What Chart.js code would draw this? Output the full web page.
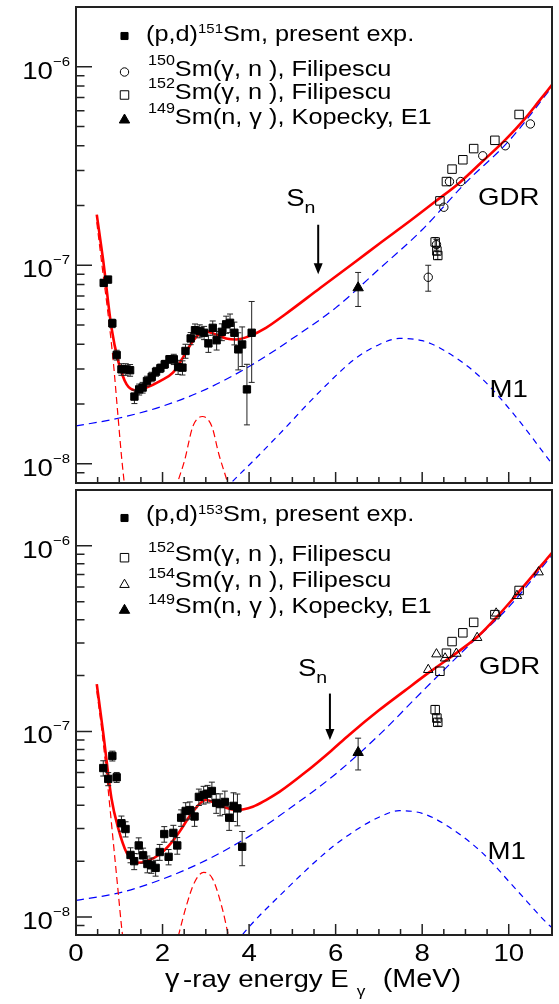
<!DOCTYPE html>
<html>
<head>
<meta charset="utf-8">
<script src="https://cdn.jsdelivr.net/npm/chart.js@4/dist/chart.umd.min.js"></script>
<style>
  body { margin: 0; background: #fff; }
  #wrap { position: relative; width: 559px; height: 1004px; }
  canvas { position: absolute; left: 0; }
</style>
</head>
<body>
<div id="wrap">
  <canvas id="sm151" width="559" height="490" style="top:0"></canvas>
  <canvas id="sm153" width="559" height="521" style="top:483px"></canvas>
</div>
<script>
// ---- axis ticks ----
const xTickLabels = [0, 2, 4, 6, 8, 10];
const yDecades = [-6, -7, -8];

// ---- (p,d)151Sm, present experiment ----
const energy151 = [0.64, 0.74, 0.84, 0.94, 1.05, 1.15, 1.25, 1.35, 1.46, 1.54, 1.64, 1.75, 1.85, 1.95, 2.05, 2.16, 2.26, 2.36, 2.46, 2.53,
                   2.65, 2.75, 2.86, 2.96, 3.06, 3.16, 3.25, 3.37, 3.47, 3.56, 3.66, 3.75, 3.84, 3.95, 4.06];
const gsf151 = [8.15e-8, 8.47e-8, 5.10e-8, 3.53e-8, 2.99e-8, 2.99e-8, 2.96e-8, 2.18e-8, 2.37e-8, 2.42e-8, 2.61e-8, 2.74e-8, 2.91e-8, 3.03e-8,
                3.17e-8, 3.36e-8, 3.36e-8, 3.07e-8, 3.05e-8, 3.70e-8, 4.28e-8, 4.71e-8, 4.66e-8, 4.57e-8, 4.04e-8, 4.84e-8, 4.19e-8, 4.62e-8,
                5.04e-8, 5.13e-8, 4.57e-8, 3.77e-8, 3.99e-8, 2.37e-8, 4.57e-8];
const err151 = [3e-9, 3e-9, 2.5e-9, 2e-9, 2e-9, 2e-9, 2e-9, 1.7e-9, 1.5e-9, 1.5e-9, 1.5e-9, 1.5e-9, 1.5e-9, 1.5e-9, 1.5e-9, 1.5e-9, 2e-9,
                2.5e-9, 2.5e-9, 3e-9, 3e-9, 3.5e-9, 3.5e-9, 3.5e-9, 4e-9, 4e-9, 4.5e-9, 4.5e-9, 5e-9, 5.5e-9, 6e-9, 8e-9, 9e-9, 8e-9, 2e-8];

// ---- (p,d)153Sm, present experiment ----
const energy153 = [0.63, 0.745, 0.84, 0.94, 1.05, 1.145, 1.26, 1.345, 1.45, 1.55, 1.65, 1.74, 1.84, 1.935, 2.04, 2.14, 2.25, 2.34, 2.43,
                   2.535, 2.63, 2.74, 2.84, 2.95, 3.04, 3.14, 3.24, 3.33, 3.44, 3.54, 3.64, 3.73, 3.84];
const gsf153 = [6.35e-8, 5.55e-8, 7.38e-8, 5.66e-8, 3.20e-8, 2.98e-8, 2.16e-8, 2.00e-8, 2.43e-8, 2.15e-8, 1.93e-8, 1.90e-8, 1.84e-8, 2.24e-8,
                2.80e-8, 2.11e-8, 2.84e-8, 2.43e-8, 3.43e-8, 3.73e-8, 3.77e-8, 3.48e-8, 4.44e-8, 4.56e-8, 4.62e-8, 4.78e-8, 4.12e-8, 4.06e-8,
                4.17e-8, 3.43e-8, 3.97e-8, 3.85e-8, 2.39e-8];
const err153 = [6e-9, 4.5e-9, 4.5e-9, 3.5e-9, 3e-9, 2.8e-9, 2e-9, 2e-9, 2.4e-9, 2e-9, 2e-9, 1.8e-9, 1.8e-9, 2.2e-9, 2.7e-9, 2e-9, 2.8e-9,
                2.5e-9, 3.5e-9, 4e-9, 4e-9, 4e-9, 4.5e-9, 5e-9, 5e-9, 5.5e-9, 5e-9, 5.5e-9, 6e-9, 5e-9, 7e-9, 7.5e-9, 5e-9];

// ---- photoneutron data (Filipescu) ----
const energy150gn = [8.14, 8.33, 8.50, 8.63, 8.89, 9.40, 9.92, 10.50];
const gsf150gn = [8.7e-8, 1.27e-7, 1.96e-7, 2.64e-7, 2.64e-7, 3.56e-7, 4.0e-7, 5.15e-7];
const err150gn = [1.3e-8, 8e-9, 0, 0, 0, 0, 0, 0];

const energy152gn = [8.30, 8.34, 8.36, 8.41, 8.56, 8.69, 8.94, 9.19, 9.68, 10.24];
const gsf152gn = [1.31e-7, 1.18e-7, 1.12e-7, 2.11e-7, 2.64e-7, 3.05e-7, 3.40e-7, 3.87e-7, 4.26e-7, 5.75e-7];
const err152gn = [7e-9, 5e-9, 5e-9, 0, 0, 0, 0, 0, 0, 0];

const energy154gn = [8.14, 8.33, 8.53, 8.79, 9.27, 9.71, 10.19, 10.69];
const gsf154gn = [2.15e-7, 2.61e-7, 2.48e-7, 2.63e-7, 3.20e-7, 4.33e-7, 5.39e-7, 7.22e-7];

// ---- 149Sm(n,γ), Kopecky, E1 ----
const kopeckyE = [6.52];
const kopeckyGsf = [7.7e-8];
const kopeckyErr = [1.5e-8];

// ---- model curves, 151Sm ----
const totalE151 = [0.48, 0.63, 0.82, 0.975, 1.17, 1.40, 1.63, 1.94, 2.24, 2.47, 2.70, 2.97, 3.24, 3.47, 3.70, 4.01, 4.39, 4.83, 5.65, 6.48,
                   7.0, 7.7, 8.31, 8.85, 9.39, 9.92, 10.38, 10.69, 11.0];
const total151 = [1.8e-7, 1.05e-7, 4.84e-8, 3.3e-8, 2.51e-8, 2.34e-8, 2.42e-8, 2.61e-8, 2.88e-8, 3.42e-8, 4.15e-8, 4.66e-8, 4.48e-8, 4.28e-8,
                  4.23e-8, 4.4e-8, 4.84e-8, 5.65e-8, 7.7e-8, 1.05e-7, 1.28e-7, 1.66e-7, 2.1e-7, 2.59e-7, 3.33e-7, 4.28e-7, 5.5e-7, 6.67e-7, 8.1e-7];
const upbendE151 = [0.48, 0.6, 0.72, 0.86, 0.96, 1.05, 1.12, 1.2];
const upbend151 = [1.65e-7, 1.0e-7, 6.2e-8, 3.3e-8, 1.85e-8, 1.1e-8, 7.8e-9, 5.2e-9];
const scissorsE151 = [2.3, 2.36, 2.51, 2.69, 2.8, 2.92, 3.04, 3.15, 3.3, 3.49, 3.56];
const scissors151 = [7.4e-9, 8.2e-9, 1.04e-8, 1.52e-8, 1.68e-8, 1.73e-8, 1.68e-8, 1.52e-8, 1.12e-8, 8.2e-9, 7.2e-9];
const e1E = [0, 1, 2, 3, 4, 5, 6, 7, 8, 9, 10, 11];
const e1_151 = [1.55e-8, 1.70e-8, 1.95e-8, 2.37e-8, 3.09e-8, 4.27e-8, 6.1e-8, 9.55e-8, 1.51e-7, 2.6e-7, 4.22e-7, 7.9e-7];
const m1E151 = [3.45, 3.56, 4.09, 4.70, 5.65, 6.48, 7.0, 7.47, 8.0, 8.53, 9.36, 10.18, 10.97, 11.1];
const m1_151 = [7.4e-9, 7.9e-9, 1.03e-8, 1.41e-8, 2.33e-8, 3.42e-8, 3.98e-8, 4.28e-8, 4.17e-8, 3.7e-8, 2.71e-8, 1.71e-8, 1.02e-8, 9.4e-9];

// ---- model curves, 153Sm ----
const totalE153 = [0.48, 0.63, 0.82, 0.975, 1.17, 1.40, 1.63, 1.94, 2.17, 2.40, 2.70, 3.0, 3.24, 3.47, 3.70, 4.085, 4.39, 4.70, 5.3, 5.9,
                   6.31, 7.0, 7.6, 8.16, 8.85, 9.31, 9.77, 10.23, 11.0];
const total153 = [1.8e-7, 9.8e-8, 4.35e-8, 3.01e-8, 2.22e-8, 1.96e-8, 2.0e-8, 2.18e-8, 2.46e-8, 2.9e-8, 3.7e-8, 4.27e-8, 4.09e-8, 3.88e-8,
                  3.77e-8, 3.93e-8, 4.27e-8, 4.72e-8, 6.02e-8, 7.88e-8, 9.58e-8, 1.30e-7, 1.66e-7, 2.08e-7, 2.71e-7, 3.29e-7, 4.25e-7, 5.63e-7, 9.18e-7];
const upbendE153 = [0.48, 0.6, 0.72, 0.86, 0.96, 1.05, 1.12, 1.2];
const upbend153 = [1.65e-7, 1.0e-7, 5.5e-8, 2.56e-8, 1.48e-8, 9.0e-9, 6.5e-9, 4.5e-9];
const scissorsE153 = [2.3, 2.40, 2.55, 2.74, 2.95, 3.16, 3.39, 3.51, 3.6];
const scissors153 = [6.9e-9, 8.5e-9, 1.15e-8, 1.54e-8, 1.74e-8, 1.6e-8, 1.09e-8, 8.2e-9, 6.8e-9];
const e1_153 = [1.23e-8, 1.35e-8, 1.6e-8, 2.02e-8, 2.72e-8, 3.94e-8, 5.9e-8, 9.55e-8, 1.64e-7, 2.79e-7, 4.68e-7, 8.9e-7];
const m1E153 = [3.7, 3.84, 4.83, 5.9, 6.48, 7.0, 7.47, 8.0, 8.53, 9.36, 10.18, 10.92, 11.1];
const m1_153 = [7.2e-9, 8.0e-9, 1.39e-8, 2.36e-8, 2.95e-8, 3.45e-8, 3.74e-8, 3.62e-8, 3.15e-8, 2.25e-8, 1.4e-8, 9.1e-9, 8.4e-9];

// neutron separation energies (MeV)
const sn151 = 5.597;
const sn153 = 5.868;

// ---------------------------------------------------------------
const FONT = '"Liberation Sans", Arial, Helvetica, sans-serif';
const SX = 1.15;   // glyphs are drawn a little wide
const RED = '#ff0000';
const BLUE = '#0000ff';

const pts = (xs, ys) => xs.map((x, i) => ({ x, y: ys[i] }));

function measure(ctx, str, size) {
  ctx.font = size + 'px ' + FONT;
  return ctx.measureText(str).width * SX;
}

function text(ctx, str, x, y, size, align) {
  const w = measure(ctx, str, size);
  let x0 = x;
  if (align === 'center') x0 = x - w / 2;
  else if (align === 'right') x0 = x - w;
  ctx.save();
  ctx.font = size + 'px ' + FONT;
  ctx.fillStyle = '#000';
  ctx.textAlign = 'left';
  ctx.textBaseline = 'alphabetic';
  ctx.translate(x0, y);
  ctx.scale(SX, 1);
  ctx.fillText(str, 0, 0);
  ctx.restore();
  return x0 + w;
}

// runs of [string, size, raise]
function richText(ctx, runs, x, y) {
  let cx = x;
  runs.forEach(([s, size, dy]) => { cx = text(ctx, s, cx, y - (dy || 0), size, 'left'); });
  return cx;
}

function drawMarker(ctx, style, x, y, r, filled) {
  ctx.save();
  ctx.beginPath();
  if (style === 'rect') {
    const s = r * Math.SQRT1_2;
    ctx.rect(x - s, y - s, 2 * s, 2 * s);
  } else if (style === 'circle') {
    ctx.arc(x, y, r, 0, Math.PI * 2);
  } else if (style === 'triangle') {
    ctx.moveTo(x, y - r);
    ctx.lineTo(x + r * Math.sin(2 * Math.PI / 3), y + r / 2);
    ctx.lineTo(x - r * Math.sin(2 * Math.PI / 3), y + r / 2);
    ctx.closePath();
  }
  ctx.lineWidth = 1;
  ctx.strokeStyle = '#000';
  if (filled) { ctx.fillStyle = '#000'; ctx.fill(); }
  ctx.stroke();
  ctx.restore();
}

// vertical error bars with small caps, drawn under each marker set
const errorBars = {
  id: 'errorBars',
  beforeDatasetDraw(chart, args) {
    const ds = chart.data.datasets[args.index];
    if (!ds.errors) return;
    const { ctx, chartArea: a, scales: { y } } = chart;
    ctx.save();
    ctx.beginPath();
    ctx.rect(a.left, a.top, a.right - a.left, a.bottom - a.top);
    ctx.clip();
    ctx.strokeStyle = '#222';
    ctx.lineWidth = 1;
    ctx.beginPath();
    args.meta.data.forEach((pt, i) => {
      const e = ds.errors[i];
      if (!e) return;
      const v = ds.data[i].y;
      const hi = y.getPixelForValue(v + e);
      const lo = y.getPixelForValue(Math.max(v - e, 1e-12));
      ctx.moveTo(pt.x, hi); ctx.lineTo(pt.x, lo);
      ctx.moveTo(pt.x - 3, hi); ctx.lineTo(pt.x + 3, hi);
      ctx.moveTo(pt.x - 3, lo); ctx.lineTo(pt.x + 3, lo);
    });
    ctx.stroke();
    ctx.restore();
  }
};

// frame, inward ticks, labels, legend and annotations
const panelDecor = {
  id: 'panel',
  afterDraw(chart, args, opts) {
    const { ctx, chartArea: a, scales: { x, y } } = chart;
    ctx.save();
    ctx.strokeStyle = '#222';
    ctx.lineWidth = 1.5;
    ctx.beginPath();
    for (let e = 0.5; e < 11; e += 0.5) {
      const px = x.getPixelForValue(e);
      const len = e % 2 === 0 ? 11 : 6;
      ctx.moveTo(px, a.bottom); ctx.lineTo(px, a.bottom - len);
    }
    for (let d = -9; d <= -6; d++) {
      for (let m = 1; m <= 9; m++) {
        const v = m * Math.pow(10, d);
        if (v < y.min * 0.999 || v > y.max * 1.001) continue;
        const py = y.getPixelForValue(v);
        ctx.moveTo(a.left, py); ctx.lineTo(a.left + (m === 1 ? 16 : 8.5), py);
      }
    }
    ctx.stroke();
    ctx.lineWidth = 2;
    ctx.strokeRect(a.left, a.top, a.right - a.left, a.bottom - a.top);
    ctx.restore();

    // y labels 10^n
    yDecades.forEach(d => {
      const py = y.getPixelForValue(Math.pow(10, d));
      const sup = '\u2212' + (-d);
      const supX = a.left - 6 - measure(ctx, sup, 13);
      text(ctx, sup, supX, py - 1, 13, 'left');
      text(ctx, '10', supX, py + 12, 24, 'right');
    });

    if (opts.xLabels) {
      xTickLabels.forEach(v => text(ctx, String(v), x.getPixelForValue(v), a.bottom + 26, 24, 'center'));
      const tb = a.bottom + 52;
      text(ctx, '\u03b3', 165, tb, 25, 'left');
      const ex = text(ctx, '-ray energy E', 183, tb, 24, 'left');
      text(ctx, '\u03b3', ex + 8, tb + 9, 15, 'left');
      text(ctx, '(MeV)', 461, tb, 25, 'right');
    }

    // legend
    opts.legend.forEach(row => {
      drawMarker(ctx, row.style, 124.5, a.top + row.my, row.r, row.filled);
      richText(ctx, row.runs, row.x, a.top + row.base);
    });

    // separation energy arrow
    const ax = x.getPixelForValue(opts.sn);
    const y0 = y.getPixelForValue(1.6e-7), y1 = y.getPixelForValue(9e-8);
    ctx.save();
    ctx.strokeStyle = '#000';
    ctx.fillStyle = '#000';
    ctx.lineWidth = 2;
    ctx.beginPath(); ctx.moveTo(ax, y0); ctx.lineTo(ax, y1 - 8); ctx.stroke();
    ctx.beginPath(); ctx.moveTo(ax - 4.5, y1 - 11); ctx.lineTo(ax + 4.5, y1 - 11); ctx.lineTo(ax, y1); ctx.closePath(); ctx.fill();
    ctx.restore();
    const sb = y.getPixelForValue(2.0e-7);
    const sx = text(ctx, 'S', ax - 32, sb, 24, 'left');
    text(ctx, 'n', sx, sb + 7, 17, 'left');

    opts.labels.forEach(l => text(ctx, l.text, x.getPixelForValue(l.e), y.getPixelForValue(l.v), 24, 'center'));
  }
};

const curve = (xs, ys, color, width, dash) => ({
  type: 'line', data: pts(xs, ys), borderColor: color, borderWidth: width, borderDash: dash || [],
  pointRadius: 0, cubicInterpolationMode: 'monotone', fill: false, order: 2
});
const markers = (xs, ys, errs, style, r, filled) => ({
  data: pts(xs, ys), errors: errs, showLine: false, pointStyle: style, pointRadius: r,
  pointBackgroundColor: filled ? '#000' : 'rgba(0,0,0,0)', pointBorderColor: '#000', pointBorderWidth: 1, order: 1
});

function makePanel(id, datasets, panel, padding) {
  return new Chart(document.getElementById(id), {
    type: 'scatter',
    data: { datasets },
    options: {
      responsive: false,
      animation: false,
      devicePixelRatio: 1,
      layout: { padding },
      plugins: { legend: { display: false }, tooltip: { enabled: false }, panel },
      scales: {
        x: { type: 'linear', min: 0, max: 11, display: false },
        y: { type: 'logarithmic', min: 8e-9, max: 2e-6, display: false }
      }
    },
    plugins: [errorBars, panelDecor]
  });
}

makePanel('sm151', [
  markers(energy151, gsf151, err151, 'rect', 5.2, true),
  markers(energy150gn, gsf150gn, err150gn, 'circle', 4.2, false),
  markers(energy152gn, gsf152gn, err152gn, 'rect', 6, false),
  markers(kopeckyE, kopeckyGsf, kopeckyErr, 'triangle', 6, true),
  curve(totalE151, total151, RED, 2.6),
  curve(upbendE151, upbend151, RED, 1.2, [7, 4]),
  curve(scissorsE151, scissors151, RED, 1.2, [7, 4]),
  curve(e1E, e1_151, BLUE, 1.2, [8, 5]),
  curve(m1E151, m1_151, BLUE, 1.2, [6, 5])
], {
  sn: sn151,
  xLabels: false,
  legend: [
    { style: 'rect', r: 5, filled: true, my: 29, base: 34.3, x: 146, runs: [['(p,d)', 22], ['151', 13, 8], ['Sm, present exp.', 22]] },
    { style: 'circle', r: 4.2, filled: false, my: 65, base: 69, x: 148, runs: [['150', 14, 11], ['Sm(\u03b3, n ), Filipescu', 22]] },
    { style: 'rect', r: 6, filled: false, my: 88, base: 92.3, x: 148, runs: [['152', 14, 11], ['Sm(\u03b3, n ), Filipescu', 22]] },
    { style: 'triangle', r: 6, filled: true, my: 113, base: 116.7, x: 148, runs: [['149', 14, 11], ['Sm(n, \u03b3 ), Kopecky, E1', 22]] }
  ],
  labels: [{ text: 'GDR', e: 10.0, v: 2.02e-7 }, { text: 'M1', e: 10.0, v: 2.18e-8 }]
}, { left: 76, right: 6, top: 5, bottom: 7 });

makePanel('sm153', [
  markers(energy153, gsf153, err153, 'rect', 5.2, true),
  markers(energy152gn, gsf152gn, err152gn, 'rect', 6, false),
  markers(energy154gn, gsf154gn, null, 'triangle', 5.5, false),
  markers(kopeckyE, kopeckyGsf, kopeckyErr, 'triangle', 6, true),
  curve(totalE153, total153, RED, 2.6),
  curve(upbendE153, upbend153, RED, 1.2, [7, 4]),
  curve(scissorsE153, scissors153, RED, 1.2, [7, 4]),
  curve(e1E, e1_153, BLUE, 1.2, [8, 5]),
  curve(m1E153, m1_153, BLUE, 1.2, [6, 5])
], {
  sn: sn153,
  xLabels: true,
  legend: [
    { style: 'rect', r: 5, filled: true, my: 28, base: 31.3, x: 146, runs: [['(p,d)', 22], ['153', 13, 7], ['Sm, present exp.', 22]] },
    { style: 'rect', r: 6, filled: false, my: 67.7, base: 71, x: 148, runs: [['152', 14, 9], ['Sm(\u03b3, n ), Filipescu', 22]] },
    { style: 'triangle', r: 5.5, filled: false, my: 94.7, base: 97, x: 148, runs: [['154', 14, 9], ['Sm(\u03b3, n ), Filipescu', 22]] },
    { style: 'triangle', r: 6, filled: true, my: 120.3, base: 123, x: 148, runs: [['149', 14, 9], ['Sm(n, \u03b3 ), Kopecky, E1', 22]] }
  ],
  labels: [{ text: 'GDR', e: 10.02, v: 2.03e-7 }, { text: 'M1', e: 9.95, v: 2.05e-8 }]
}, { left: 76, right: 6, top: 0, bottom: 69 });
</script>
</body>
</html>
